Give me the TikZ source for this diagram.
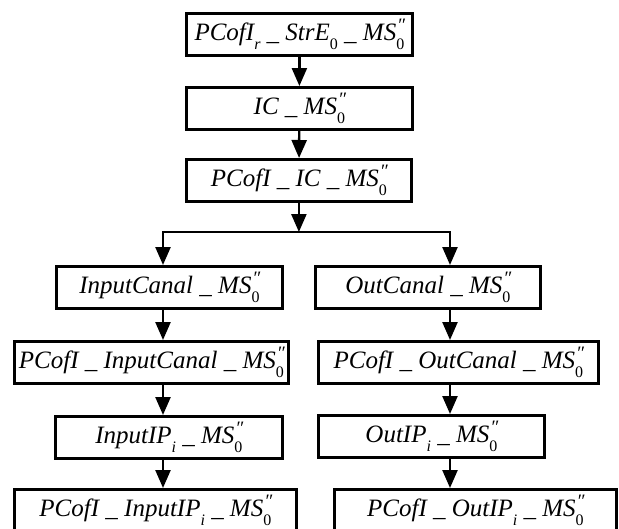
\documentclass[tikz,border=0pt]{standalone}
\usepackage{fontspec}
\setmainfont{Liberation Serif}
\usepackage{tikz}
\usetikzlibrary{arrows.meta}

% small lowered index and the MS''_0 tail used in every box
\newcommand{\lowidx}[1]{\raisebox{-0.35em}{\fontsize{16}{16}\selectfont #1}}
\newcommand{\msnull}{MS\rlap{\raisebox{0.34em}{\fontsize{19}{19}\selectfont\kern0.05em ″}}\lowidx{\textup{0}}}

\tikzset{
  stage/.style={draw, line width=2.8pt, anchor=north west, inner sep=0pt,
    minimum height=42pt, font=\fontsize{25}{27}\selectfont\itshape},
  flow/.style={line width=2.4pt, -{Triangle[length=18pt,width=15pt]}},
}

\begin{document}
\begin{tikzpicture}[x=1pt,y=-1pt]
                \useasboundingbox (0,0) rectangle (619,528);

                % 1. Common trunk
                \node[stage, minimum width=226pt] (strE) at (185,12)
                    {PCofI\lowidx{r} \_ StrE\lowidx{\textup{0}} \_ \msnull};
                \node[stage, minimum width=226pt] (ic) at (185,86)
                    {IC \_ \msnull};
                \node[stage, minimum width=225pt] (pcic) at (185,158)
                    {PCofI \_ IC \_ \msnull};

                % 2. Input branch
                \node[stage, minimum width=226pt] (in1) at (55,265)
                    {InputCanal \_ \msnull};
                \node[stage, minimum width=274pt] (in2) at (13,340)
                    {PCofI \_ InputCanal \_ \msnull};
                \node[stage, minimum width=227pt] (in3) at (54,415)
                    {InputIP\lowidx{i} \_ \msnull};
                \node[stage, minimum width=282pt] (in4) at (13,488)
                    {PCofI \_ InputIP\lowidx{i} \_ \msnull};

                % 3. Output branch
                \node[stage, minimum width=225pt] (out1) at (314,265)
                    {OutCanal \_ \msnull};
                \node[stage, minimum width=280pt] (out2) at (317,340)
                    {PCofI \_ OutCanal \_ \msnull};
                \node[stage, minimum width=226pt] (out3) at (317,414)
                    {OutIP\lowidx{i} \_ \msnull};
                \node[stage, minimum width=282pt] (out4) at (333,488)
                    {PCofI \_ OutIP\lowidx{i} \_ \msnull};

                % 4. Arrows
                \coordinate (lcol) at (163,232);
                \coordinate (rcol) at (450,232);

                \draw[flow] (strE) -- (ic);
                \draw[flow] (ic) -- (pcic);
                \draw[flow] (pcic.south) -- (pcic.south |- lcol);
                \draw[line width=2.4pt, line cap=rect] (lcol) -- (rcol);

                \draw[flow] (lcol) -- (in1.north -| lcol);
                \draw[flow] (in1.south -| lcol) -- (in2.north -| lcol);
                \draw[flow] (in2.south -| lcol) -- (in3.north -| lcol);
                \draw[flow] (in3.south -| lcol) -- (in4.north -| lcol);

                \draw[flow] (rcol) -- (out1.north -| rcol);
                \draw[flow] (out1.south -| rcol) -- (out2.north -| rcol);
                \draw[flow] (out2.south -| rcol) -- (out3.north -| rcol);
                \draw[flow] (out3.south -| rcol) -- (out4.north -| rcol);
            \end{tikzpicture}
\end{document}
